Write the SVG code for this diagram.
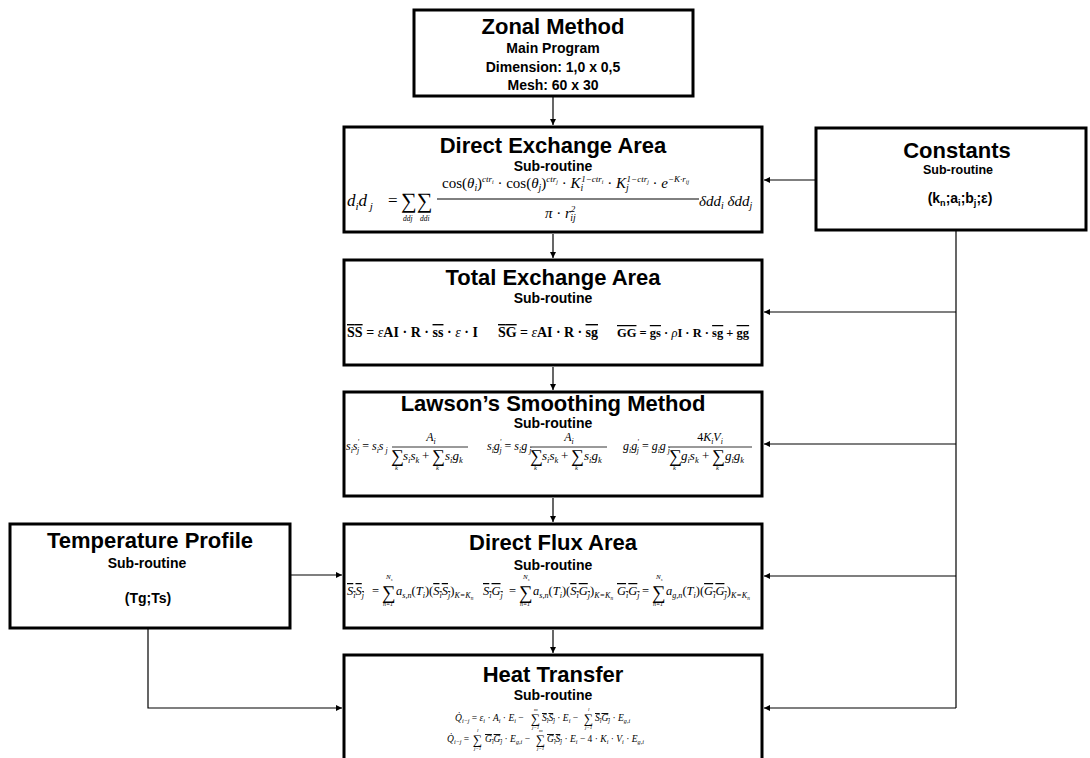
<svg xmlns="http://www.w3.org/2000/svg" width="1090" height="758" viewBox="0 0 1090 758">
<style>
.bx{fill:#fff;stroke:#000;stroke-width:3}
.cn{fill:none;stroke:#000;stroke-width:1.2}
.h{font-family:"Liberation Sans",Arial,sans-serif;font-weight:bold;text-anchor:middle;fill:#000}
.m{font-family:"Liberation Serif","Times New Roman",serif;font-style:italic;fill:#000}
.r{font-family:"Liberation Serif","Times New Roman",serif;font-style:normal}
.sb{baseline-shift:-0.35em;font-size:65%}
.sp{baseline-shift:0.65em;font-size:60%}
.ol{text-decoration:overline}
.bo{font-family:"Liberation Serif","Times New Roman",serif;font-weight:bold;fill:#000}
</style>
<defs>
<marker id="ah" viewBox="0 0 10 10" refX="10" refY="5" markerWidth="7" markerHeight="6" markerUnits="userSpaceOnUse" orient="auto"><path d="M0,0 L10,5 L0,10 z" fill="#000"/></marker>
</defs>

<g id="connectors">
<path class="cn" d="M553,97 L553,125" marker-end="url(#ah)"/>
<path class="cn" d="M553,234 L553,258" marker-end="url(#ah)"/>
<path class="cn" d="M553,367 L553,390" marker-end="url(#ah)"/>
<path class="cn" d="M553,498 L553,522" marker-end="url(#ah)"/>
<path class="cn" d="M553,630 L553,653" marker-end="url(#ah)"/>
<path class="cn" d="M815,180 L764,180" marker-end="url(#ah)"/>
<path class="cn" d="M956,231 L956,708"/>
<path class="cn" d="M956,312 L764,312" marker-end="url(#ah)"/>
<path class="cn" d="M956,444 L764,444" marker-end="url(#ah)"/>
<path class="cn" d="M956,576 L764,576" marker-end="url(#ah)"/>
<path class="cn" d="M956,708 L764,708" marker-end="url(#ah)"/>
<path class="cn" d="M291,575 L342,575" marker-end="url(#ah)"/>
<path class="cn" d="M148,629 L148,708 L342,708" marker-end="url(#ah)"/>
</g>

<g id="zonal">
<rect class="bx" x="414" y="10" width="279" height="86"/>
<text class="h" x="553" y="34" font-size="22">Zonal Method</text>
<text class="h" x="553" y="53" font-size="14">Main Program</text>
<text class="h" x="553" y="72" font-size="14">Dimension: 1,0 x 0,5</text>
<text class="h" x="553" y="90" font-size="14">Mesh: 60 x 30</text>
</g>

<g id="direct-exchange">
<rect class="bx" x="344" y="127" width="418" height="105"/>
<text class="h" x="553" y="153" font-size="22">Direct Exchange Area</text>
<text class="h" x="553" y="171" font-size="14">Sub-routine</text>
<text class="m" x="347" y="206" font-size="17">d<tspan class="sb">i</tspan>d<tspan class="sb"> j</tspan></text>
<text class="r" x="388" y="206" font-size="17">=</text>
<text class="r" x="401" y="208" font-size="22">∑∑</text>
<text class="m" x="403" y="221" font-size="7.5">ddj</text>
<text class="m" x="420" y="221" font-size="7.5">ddi</text>
<text class="m" x="442" y="188" font-size="15"><tspan class="r">cos(</tspan>θ<tspan class="sb">i</tspan><tspan class="r">)</tspan><tspan class="sp">ctr<tspan class="sb">i</tspan></tspan><tspan class="r"> · cos(</tspan>θ<tspan class="sb">j</tspan><tspan class="r">)</tspan><tspan class="sp">ctr<tspan class="sb">j</tspan></tspan><tspan class="r"> · </tspan>K<tspan class="sb">i</tspan><tspan class="sp" dx="-2">1−ctr<tspan class="sb">i</tspan></tspan><tspan class="r"> · </tspan>K<tspan class="sb">j</tspan><tspan class="sp" dx="-2">1−ctr<tspan class="sb">j</tspan></tspan><tspan class="r"> · </tspan>e<tspan class="sp">−K·r<tspan class="sb">ij</tspan></tspan></text>
<line x1="437" y1="199" x2="699" y2="199" stroke="#000" stroke-width="1"/>
<text class="m" x="545" y="218" font-size="15">π<tspan class="r"> · </tspan>r<tspan class="sp">2</tspan><tspan class="sb" dx="-5">ij</tspan></text>
<text class="m" x="699" y="206" font-size="15">δdd<tspan class="sb">i</tspan> δdd<tspan class="sb">j</tspan></text>
</g>

<g id="total-exchange">
<rect class="bx" x="344" y="260" width="418" height="105"/>
<text class="h" x="553" y="285" font-size="22">Total Exchange Area</text>
<text class="h" x="553" y="303" font-size="14">Sub-routine</text>
<text class="bo" x="347" y="337" font-size="14" textLength="131" lengthAdjust="spacing"><tspan class="ol">SS</tspan> = <tspan class="m" font-weight="normal">ε</tspan>AI · R · <tspan class="ol">ss</tspan> · <tspan class="m" font-weight="normal">ε</tspan> · I</text>
<text class="bo" x="498" y="337" font-size="14" textLength="100" lengthAdjust="spacing"><tspan class="ol">SG</tspan> = <tspan class="m" font-weight="normal">ε</tspan>AI · R · <tspan class="ol">sg</tspan></text>
<text class="bo" x="617" y="337" font-size="12.5"><tspan class="ol">GG</tspan> = <tspan class="ol">gs</tspan> · <tspan class="m" font-weight="normal">ρ</tspan>I · R · <tspan class="ol">sg</tspan> + <tspan class="ol">gg</tspan></text>
</g>

<g id="lawson">
<rect class="bx" x="344" y="392" width="418" height="104"/>
<text class="h" x="553" y="411" font-size="22">Lawson’s Smoothing Method</text>
<text class="h" x="553" y="428" font-size="14">Sub-routine</text>

<text class="m" x="346" y="450" font-size="12">s<tspan class="sb">i</tspan>s<tspan class="sp">'</tspan><tspan class="sb" dx="-2">j</tspan><tspan class="r"> = </tspan>s<tspan class="sb">i</tspan>s<tspan class="sb"> j</tspan></text>
<text class="m" x="431" y="441" font-size="12" text-anchor="middle">A<tspan class="sb">i</tspan></text>
<line x1="392" y1="447" x2="468" y2="447" stroke="#000" stroke-width="0.8"/>
<text class="r" x="391" y="462" font-size="18">∑</text>
<text class="m" x="403" y="460" font-size="13">s<tspan class="sb">i</tspan>s<tspan class="sb">k</tspan></text>
<text class="r" x="422" y="460" font-size="13">+</text>
<text class="r" x="432" y="462" font-size="18">∑</text>
<text class="m" x="445" y="460" font-size="13">s<tspan class="sb">i</tspan>g<tspan class="sb">k</tspan></text>
<text class="m" x="395" y="470" font-size="6.5">k</text>
<text class="m" x="436" y="470" font-size="6.5">k</text>

<text class="m" x="487" y="450" font-size="12">s<tspan class="sb">i</tspan>g<tspan class="sp">'</tspan><tspan class="sb" dx="-2">j</tspan><tspan class="r"> = </tspan>s<tspan class="sb">i</tspan>g<tspan class="sb"> j</tspan></text>
<text class="m" x="569" y="441" font-size="12" text-anchor="middle">A<tspan class="sb">i</tspan></text>
<line x1="530" y1="447" x2="607" y2="447" stroke="#000" stroke-width="0.8"/>
<text class="r" x="530" y="462" font-size="18">∑</text>
<text class="m" x="542" y="460" font-size="13">s<tspan class="sb">i</tspan>s<tspan class="sb">k</tspan></text>
<text class="r" x="561" y="460" font-size="13">+</text>
<text class="r" x="571" y="462" font-size="18">∑</text>
<text class="m" x="584" y="460" font-size="13">s<tspan class="sb">i</tspan>g<tspan class="sb">k</tspan></text>
<text class="m" x="534" y="470" font-size="6.5">k</text>
<text class="m" x="575" y="470" font-size="6.5">k</text>

<text class="m" x="623" y="450" font-size="12">g<tspan class="sb">i</tspan>g<tspan class="sp">'</tspan><tspan class="sb" dx="-2">j</tspan><tspan class="r"> = </tspan>g<tspan class="sb">i</tspan>g<tspan class="sb"> j</tspan></text>
<text class="m" x="710" y="441" font-size="12" text-anchor="middle"><tspan class="r">4</tspan>K<tspan class="sb">i</tspan>V<tspan class="sb">i</tspan></text>
<line x1="668" y1="447" x2="752" y2="447" stroke="#000" stroke-width="0.8"/>
<text class="r" x="669" y="462" font-size="18">∑</text>
<text class="m" x="681" y="460" font-size="13">g<tspan class="sb">i</tspan>s<tspan class="sb">k</tspan></text>
<text class="r" x="702" y="460" font-size="13">+</text>
<text class="r" x="712" y="462" font-size="18">∑</text>
<text class="m" x="725" y="460" font-size="13">g<tspan class="sb">i</tspan>g<tspan class="sb">k</tspan></text>
<text class="m" x="673" y="470" font-size="6.5">k</text>
<text class="m" x="716" y="470" font-size="6.5">k</text>
</g>

<g id="direct-flux">
<rect class="bx" x="344" y="524" width="418" height="104"/>
<text class="h" x="553" y="550" font-size="22">Direct Flux Area</text>
<text class="h" x="553" y="570" font-size="14">Sub-routine</text>

<text class="m" x="347" y="595" font-size="12.5"><tspan class="ol">S<tspan class="sb">i</tspan>S<tspan class="sb">j</tspan></tspan></text>
<text class="r" x="372" y="595" font-size="12.5">=</text>
<text class="r" x="382" y="599" font-size="19">∑</text>
<text class="m" x="386" y="579" font-size="7">N<tspan class="sb">s</tspan></text>
<text class="m" x="383" y="606" font-size="6">n=1</text>
<text class="m" x="396" y="595" font-size="12.5">a<tspan class="sb">s,n</tspan><tspan class="r">(</tspan>T<tspan class="sb">i</tspan><tspan class="r">)(</tspan><tspan class="ol">S<tspan class="sb">i</tspan>S<tspan class="sb">j</tspan></tspan><tspan class="r">)</tspan><tspan class="sb">K=K<tspan class="sb">n</tspan></tspan></text>

<text class="m" x="483" y="595" font-size="12.5"><tspan class="ol">S<tspan class="sb">i</tspan>G<tspan class="sb">j</tspan></tspan></text>
<text class="r" x="509" y="595" font-size="12.5">=</text>
<text class="r" x="519" y="599" font-size="19">∑</text>
<text class="m" x="523" y="579" font-size="7">N<tspan class="sb">s</tspan></text>
<text class="m" x="520" y="606" font-size="6">n=1</text>
<text class="m" x="533" y="595" font-size="12.5">a<tspan class="sb">s,n</tspan><tspan class="r">(</tspan>T<tspan class="sb">i</tspan><tspan class="r">)(</tspan><tspan class="ol">S<tspan class="sb">i</tspan>G<tspan class="sb">j</tspan></tspan><tspan class="r">)</tspan><tspan class="sb">K=K<tspan class="sb">n</tspan></tspan></text>

<text class="m" x="617" y="595" font-size="12.5"><tspan class="ol">G<tspan class="sb">i</tspan>G<tspan class="sb">j</tspan></tspan></text>
<text class="r" x="642" y="595" font-size="12.5">=</text>
<text class="r" x="652" y="599" font-size="19">∑</text>
<text class="m" x="656" y="579" font-size="7">N<tspan class="sb">s</tspan></text>
<text class="m" x="653" y="606" font-size="6">n=1</text>
<text class="m" x="666" y="595" font-size="12.5">a<tspan class="sb">g,n</tspan><tspan class="r">(</tspan>T<tspan class="sb">i</tspan><tspan class="r">)(</tspan><tspan class="ol">G<tspan class="sb">i</tspan>G<tspan class="sb">j</tspan></tspan><tspan class="r">)</tspan><tspan class="sb">K=K<tspan class="sb">n</tspan></tspan></text>
</g>

<g id="heat-transfer">
<rect class="bx" x="344" y="655" width="418" height="110"/>
<text class="h" x="553" y="682" font-size="22">Heat Transfer</text>
<text class="h" x="553" y="700" font-size="14">Sub-routine</text>
<text class="m" x="455" y="721" font-size="9.5">Q̇<tspan class="sb">i−j</tspan><tspan class="r"> = </tspan>ε<tspan class="sb">i</tspan><tspan class="r"> · </tspan>A<tspan class="sb">i</tspan><tspan class="r"> · </tspan>E<tspan class="sb">i</tspan><tspan class="r"> −</tspan></text>
<text class="r" x="531" y="723" font-size="13">∑</text>
<text class="m" x="534" y="711" font-size="5">m</text>
<text class="m" x="532" y="729" font-size="5">j=1</text>
<text class="m" x="542" y="721" font-size="9.5"><tspan class="ol">S<tspan class="sb">i</tspan>S<tspan class="sb">j</tspan></tspan><tspan class="r"> · </tspan>E<tspan class="sb">i</tspan><tspan class="r"> −</tspan></text>
<text class="r" x="584" y="723" font-size="13">∑</text>
<text class="m" x="588" y="711" font-size="5">l</text>
<text class="m" x="585" y="729" font-size="5">j=1</text>
<text class="m" x="595" y="721" font-size="9.5"><tspan class="ol">S<tspan class="sb">i</tspan>G<tspan class="sb">j</tspan></tspan><tspan class="r"> · </tspan>E<tspan class="sb">g,i</tspan></text>

<text class="m" x="447" y="742" font-size="9.5">Q̇<tspan class="sb">i−j</tspan><tspan class="r"> =</tspan></text>
<text class="r" x="473" y="744" font-size="13">∑</text>
<text class="m" x="477" y="732" font-size="5">l</text>
<text class="m" x="474" y="750" font-size="5">j=1</text>
<text class="m" x="485" y="742" font-size="9.5"><tspan class="ol">G<tspan class="sb">i</tspan>G<tspan class="sb">j</tspan></tspan><tspan class="r"> · </tspan>E<tspan class="sb">g,i</tspan><tspan class="r"> −</tspan></text>
<text class="r" x="536" y="744" font-size="13">∑</text>
<text class="m" x="539" y="732" font-size="5">m</text>
<text class="m" x="537" y="750" font-size="5">j=1</text>
<text class="m" x="547" y="742" font-size="9.5"><tspan class="ol">G<tspan class="sb">i</tspan>S<tspan class="sb">j</tspan></tspan><tspan class="r"> · </tspan>E<tspan class="sb">i</tspan><tspan class="r"> − 4 · </tspan>K<tspan class="sb">i</tspan><tspan class="r"> · </tspan>V<tspan class="sb">i</tspan><tspan class="r"> · </tspan>E<tspan class="sb">g,i</tspan></text>
</g>

<g id="constants">
<rect class="bx" x="816" y="128" width="270" height="102"/>
<text class="h" x="957" y="158" font-size="22">Constants</text>
<text class="h" x="958" y="174" font-size="12.5">Sub-routine</text>
<text class="h" x="960" y="203" font-size="14">(k<tspan class="sb">n</tspan>;a<tspan class="sb">i</tspan>;b<tspan class="sb">j</tspan>;ε)</text>
</g>

<g id="temperature">
<rect class="bx" x="10" y="524" width="280" height="104"/>
<text class="h" x="150" y="548" font-size="22">Temperature Profile</text>
<text class="h" x="147" y="568" font-size="14">Sub-routine</text>
<text class="h" x="148" y="603" font-size="14">(Tg;Ts)</text>
</g>
</svg>
